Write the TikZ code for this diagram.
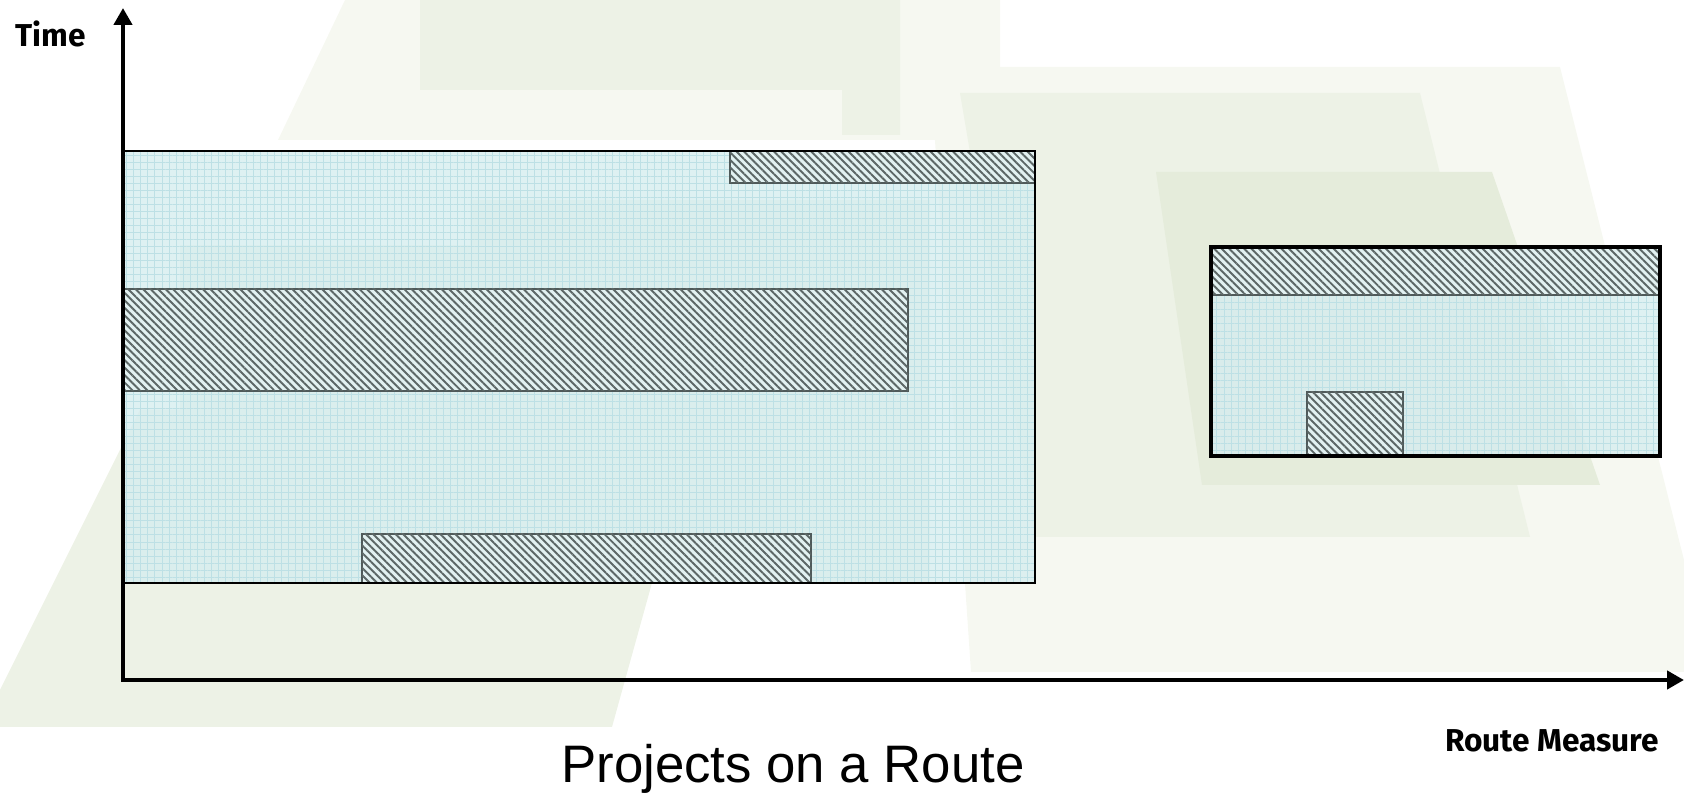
\documentclass[tikz,border=0pt]{standalone}
\usepackage{fontspec}
\setmainfont{Liberation Sans}
\newfontfamily\handfont{Fira Sans}
\usepackage{tikz}
\usetikzlibrary{arrows.meta,patterns.meta}

\definecolor{bgpale}{HTML}{F6F8F1}
\definecolor{bglight}{HTML}{EDF2E6}
\definecolor{bgmid}{HTML}{E5ECDB}
\definecolor{spanfill}{HTML}{D6EDEF}
\definecolor{gridline}{HTML}{BDE0E5}
\definecolor{hatchfill}{HTML}{E2F1F1}
\definecolor{hatchline}{HTML}{5C6766}
\definecolor{hatchedge}{HTML}{4F5A5A}

\tikzstyle{span} = [fill=spanfill, fill opacity=0.8,
    postaction={pattern={Hatch[angle=0,distance=2pt,line width=0.15pt]}, pattern color=gridline}]
\tikzstyle{spanedge} = [draw=black, line width=0.8pt]
\tikzstyle{project} = [draw=hatchedge, line width=0.8pt, fill=hatchfill,
    postaction={pattern={Lines[angle=-45,distance=1.5pt,line width=0.55pt]}, pattern color=hatchline}]
\tikzstyle{axis} = [draw, line width=1.4pt, line join=miter,
    {Triangle[width=0.18cm,length=0.17cm]}-{Triangle[width=0.18cm,length=0.17cm]}]
\tikzstyle{axislabel} = [font=\handfont\bfseries\fontsize{9}{11}\selectfont,
    inner sep=0pt, anchor=base]

\begin{document}
\begin{tikzpicture}[x=0.01cm, y=-0.01cm]

    \useasboundingbox (0,0) rectangle (1684,795);

    % Backdrop
    \fill [bgpale] (345,0) -- (1000,0) -- (1000,140) -- (278,140) -- cycle;
    \fill [bglight] (0,690) -- (140,410) -- (700,410) -- (612,727) -- (0,727) -- cycle;
    \fill [bglight] (420,0) -- (900,0) -- (900,135) -- (842,135) -- (842,90) -- (420,90) -- cycle;
    \fill [bgpale] (930,67) -- (1560,67) -- (1684,560) -- (1684,672) -- (971,672) -- cycle;
    \fill [bglight] (960,93) -- (1420,93) -- (1530,537) -- (1035,537) -- cycle;
    \fill [bgmid] (1156,172) -- (1492,172) -- (1600,485) -- (1202,485) -- cycle;
    \fill [bglight] (180,245) rectangle (690,583);
    \fill [bglight] (470,200) rectangle (930,583);

    % Route segments
    \path [span] (123,151) rectangle (1035,583);
    \path [span] (1211,247) rectangle (1660,456);

    % Projects
    \path [project] (730,151) rectangle (1035,183);
    \path [project] (123,289) rectangle (908,391);
    \path [project] (362,534) rectangle (811,583);
    \path [project] (1211,247) rectangle (1660,295);
    \path [project] (1307,392) rectangle (1403,456);

    \path [spanedge] (123,151) rectangle (1035,583);
    \path [spanedge, line width=0.9pt] (1211,247) rectangle (1660,456);

    % Place nodes
    \coordinate (origin) at (123,680);
    \coordinate (timeend) at (123,8);
    \coordinate (measureend) at (1684,680);

    \node [axislabel] (timelabel) at (51,47) {Time};
    \node [axislabel] (measurelabel) at (1552,752) {Route Measure};
    \node [font=\fontsize{15}{18}\selectfont, inner sep=0pt, anchor=base]
        (caption) at (793,783) {Projects on a Route};

    % Draw edges
    \path [axis] (timeend) -- (origin) -- (measureend);

\end{tikzpicture}
\end{document}
